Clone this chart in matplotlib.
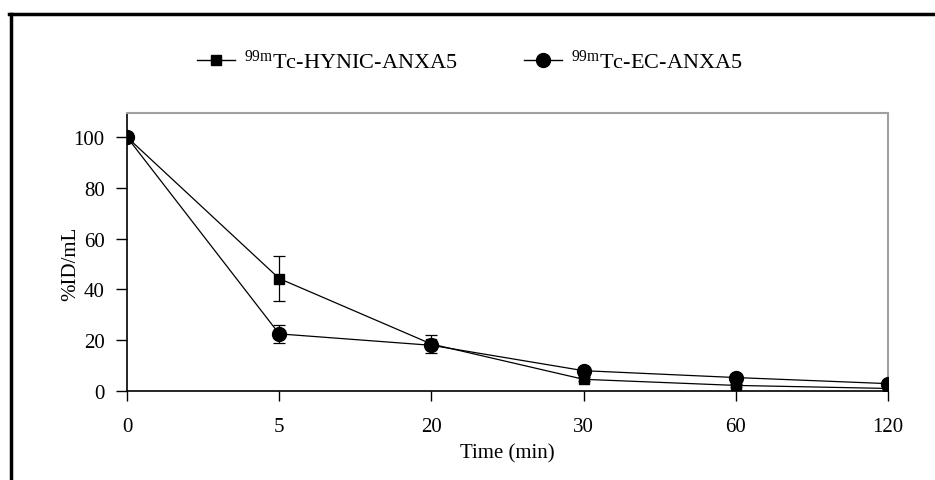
import matplotlib
matplotlib.use("Agg")
import matplotlib.pyplot as plt
from matplotlib.lines import Line2D

plt.rcParams['font.family'] = ['Liberation Serif', 'DejaVu Serif']
plt.rcParams['mathtext.fontset'] = 'custom'
plt.rcParams['mathtext.rm'] = 'Liberation Serif'
plt.rcParams['mathtext.it'] = 'Liberation Serif:italic'

time_labels = ['0', '5', '20', '30', '60', '120']
hynic_mean = [100, 44.3, 18.5, 4.6, 2.2, 1.0]
hynic_err = [0, 8.7, 3.5, 0.8, 0.5, 0.3]
ec_mean = [100, 22.5, 18.0, 8.0, 5.3, 2.9]
ec_err = [0, 3.5, 1.5, 0.8, 0.6, 0.4]
y_ticks = [0, 20, 40, 60, 80, 100]

W, H = 935, 481
FS = 15
fig = plt.figure(figsize=(W / 100, H / 100), dpi=100)
ax = fig.add_axes([127 / W, 1 - 392 / H, (888 - 127) / W, (392 - 114) / H])

x = list(range(len(time_labels)))
ax.errorbar(x, hynic_mean, yerr=hynic_err, color='black', lw=0.9, marker='s',
            ms=6.5, capsize=4, elinewidth=0.9, capthick=0.9, zorder=3)
ax.errorbar(x, ec_mean, yerr=ec_err, color='black', lw=0.9, marker='o',
            ms=10, capsize=4, elinewidth=0.9, capthick=0.9, zorder=4)

ax.set_xlim(0, len(time_labels) - 1)
ax.set_ylim(0, 109.5)
ax.set_xticks(x)
ax.set_xticklabels(time_labels)
ax.set_yticks(y_ticks)
for a in ax.get_xticklabels() + ax.get_yticklabels():
    a.set_fontsize(FS)
ax.tick_params(axis='x', direction='out', length=7, width=1, pad=12)
ax.tick_params(axis='y', direction='out', length=8, width=1, pad=8)
for s in ['left', 'bottom']:
    ax.spines[s].set_color('black')
    ax.spines[s].set_linewidth(1.2)
for s in ['top', 'right']:
    ax.spines[s].set_color('#a0a0a0')
    ax.spines[s].set_linewidth(1.5)
ax.set_xlabel('Time (min)', fontsize=FS, labelpad=5)
ax.set_ylabel('%ID/mL', fontsize=FS)
ax.yaxis.set_label_coords(-0.062, 0.46)

handles = [
    Line2D([], [], color='black', lw=1.0, marker='s', ms=7),
    Line2D([], [], color='black', lw=1.0, marker='o', ms=10),
]
labels = [r'$^{\mathrm{99m}}$Tc-HYNIC-ANXA5', r'$^{\mathrm{99m}}$Tc-EC-ANXA5']
fig.legend(handles, labels, loc='center', bbox_to_anchor=(470 / W, 1 - 62 / H),
           ncol=2, frameon=False, fontsize=16, handlelength=1.7,
           columnspacing=3.0, handletextpad=0.4)

fig.add_artist(Line2D([10.5 / W, 10.5 / W], [0, 1 - 14.5 / H], color='black',
                      lw=2.5, transform=fig.transFigure))
fig.add_artist(Line2D([9 / W, 1], [1 - 14.5 / H, 1 - 14.5 / H], color='black',
                      lw=2.5, transform=fig.transFigure))

fig.savefig('out.png', dpi=100, facecolor='white')
